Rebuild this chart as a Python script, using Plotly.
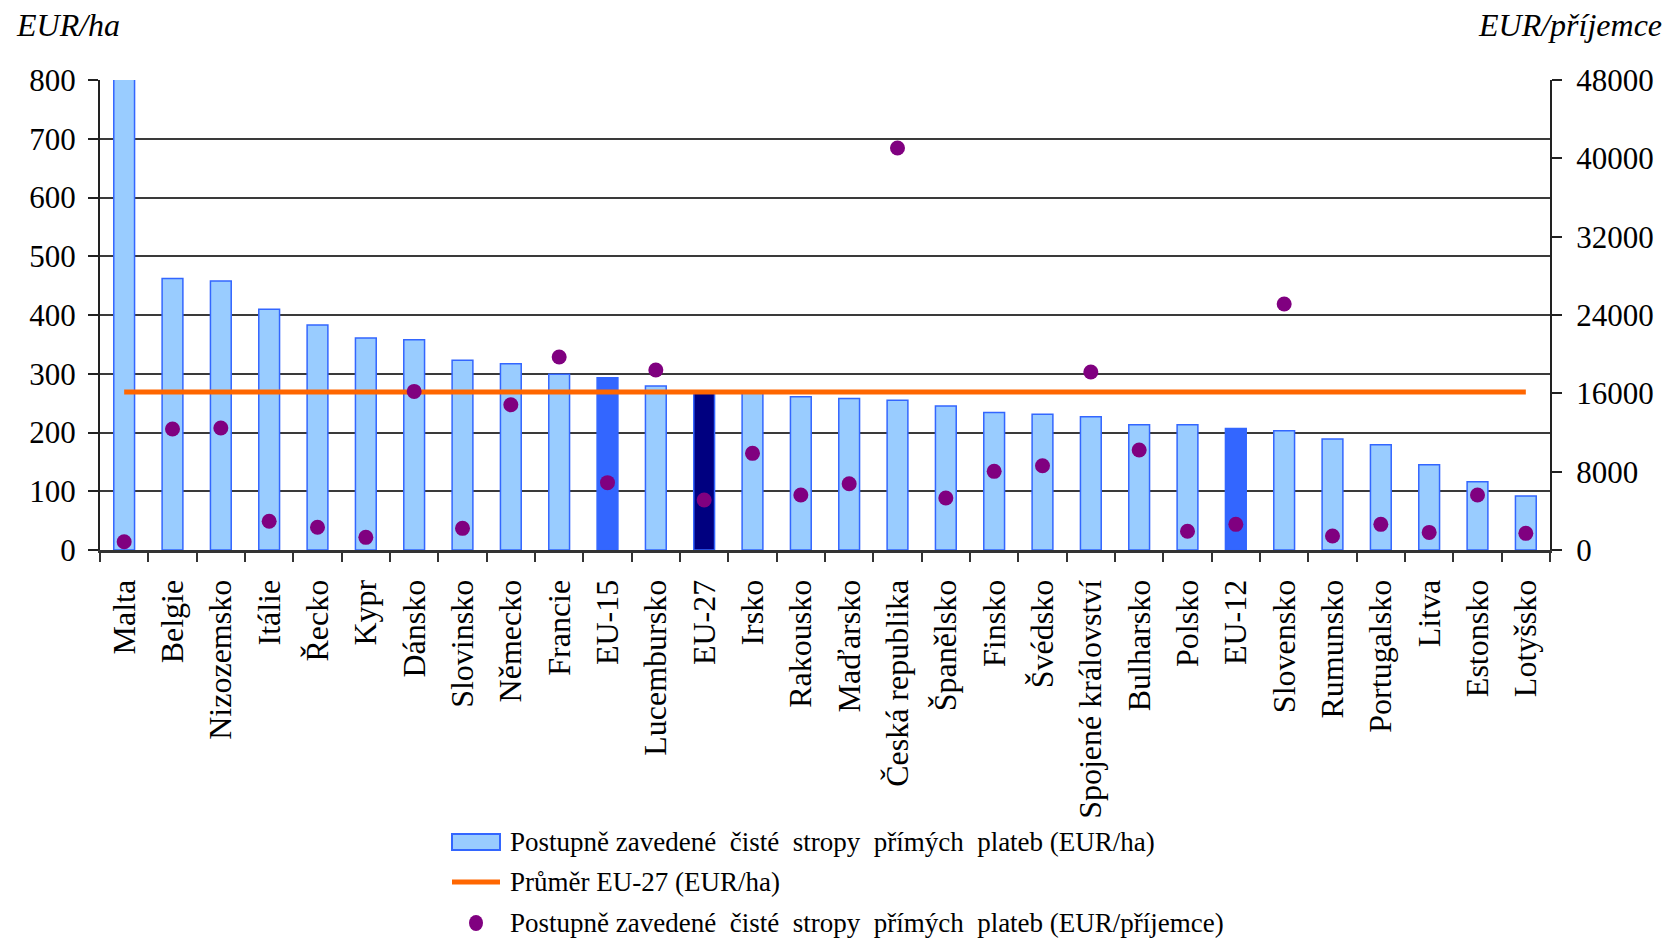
import plotly.graph_objects as go

# Country / aggregate categories, ordered by ceiling per hectare
categories = [
    "Malta", "Belgie", "Nizozemsko", "Itálie", "Řecko", "Kypr", "Dánsko",
    "Slovinsko", "Německo", "Francie", "EU-15", "Lucembursko", "EU-27",
    "Irsko", "Rakousko", "Maďarsko", "Česká republika", "Španělsko",
    "Finsko", "Švédsko", "Spojené království", "Bulharsko", "Polsko",
    "EU-12", "Slovensko", "Rumunsko", "Portugalsko", "Litva", "Estonsko",
    "Lotyšsko",
]

# Phased-in net direct payment ceilings, EUR per hectare (left axis)
eur_per_ha = [
    880, 462, 458, 410, 383, 361, 358, 323, 317, 299, 293, 279, 269,
    267, 261, 258, 255, 245, 234, 231, 227, 213, 213, 207, 203, 189,
    179, 145, 116, 92,
]

# Phased-in net direct payment ceilings, EUR per recipient (right axis)
eur_per_recipient = [
    850, 12360, 12460, 2930, 2320, 1290, 16200, 2210, 14840, 19710,
    6880, 18380, 5110, 9870, 5620, 6770, 41050, 5310, 8030, 8610,
    18180, 10210, 1910, 2620, 25120, 1430, 2620, 1800, 5620, 1700,
]

# EU-27 average, EUR per hectare
eu27_average = 269

# Axis settings
left_range = [0, 800]
left_tick_step = 100
right_range = [0, 48000]
right_tick_step = 8000

# Text
left_unit = "EUR/ha"
right_unit = "EUR/příjemce"
legend_labels = [
    "Postupně zavedené  čisté  stropy  přímých  plateb (EUR/ha)",
    "Průměr EU-27 (EUR/ha)",
    "Postupně zavedené  čisté  stropy  přímých  plateb (EUR/příjemce)",
]

LIGHT = "#99CCFF"
MID = "#3366FF"
NAVY = "#000080"
ORANGE = "#FF6600"
PURPLE = "#800080"
FONT = "Liberation Serif, Times New Roman, serif"

highlight = {"EU-15": MID, "EU-12": MID, "EU-27": NAVY}
bar_colors = [highlight.get(c, LIGHT) for c in categories]

W, H = 1667, 938
L, R, T, B = 100, 1550, 80, 550  # plot area in pixels


def px_x(x):
    return (x - L) / (R - L)


def px_y(y):
    return (B - y) / (B - T)


fig = go.Figure()

fig.add_trace(go.Bar(
    x=categories, y=eur_per_ha,
    marker=dict(color=bar_colors, line=dict(color=MID, width=1.5)),
    showlegend=False,
))

fig.add_trace(go.Scatter(
    x=categories, y=[eu27_average] * len(categories),
    mode="lines", line=dict(color=ORANGE, width=5),
    showlegend=False,
))

fig.add_trace(go.Scatter(
    x=categories, y=eur_per_recipient, yaxis="y2",
    mode="markers", marker=dict(color=PURPLE, size=15),
    showlegend=False,
))

fig.update_layout(
    width=W, height=H,
    margin=dict(l=L, r=W - R, t=T, b=H - B),
    paper_bgcolor="white", plot_bgcolor="white",
    font=dict(family=FONT, size=31, color="black"),
    bargap=0.57,
    xaxis=dict(
        type="category", range=[-0.5, len(categories) - 0.5],
        tickangle=-90,
        tickson="boundaries", ticks="outside", ticklen=9, tickwidth=1.5,
        tickcolor="#333333",
        showline=True, linecolor="#333333", linewidth=3,
        showgrid=False, ticklabelstandoff=14,
        tickfont=dict(family=FONT, size=32, color="black"),
    ),
    yaxis=dict(
        range=left_range, dtick=left_tick_step, tick0=0,
        ticks="outside", ticklen=10, tickwidth=1.5, tickcolor="#222222",
        showline=True, linecolor="#222222", linewidth=2,
        showgrid=True, gridcolor="#3a3a3a", gridwidth=1.5,
        zeroline=False, ticklabelstandoff=6,
        tickformat="d",
        tickfont=dict(family=FONT, size=31, color="black"),
    ),
    yaxis2=dict(
        range=right_range, dtick=right_tick_step, tick0=0,
        overlaying="y", side="right",
        ticks="outside", ticklen=10, tickwidth=1.5, tickcolor="#222222",
        showline=True, linecolor="#222222", linewidth=2,
        showgrid=False, zeroline=False, ticklabelstandoff=8,
        tickformat="d", separatethousands=False,
        tickfont=dict(family=FONT, size=31, color="black"),
    ),
)

# Axis unit labels
fig.add_annotation(
    x=px_x(14), y=px_y(25), xref="paper", yref="paper",
    xanchor="left", yanchor="middle", showarrow=False,
    text=f"<i>{left_unit}</i>", font=dict(family=FONT, size=32),
)
fig.add_annotation(
    x=px_x(1664), y=px_y(25), xref="paper", yref="paper",
    xanchor="right", yanchor="middle", showarrow=False,
    text=f"<i>{right_unit}</i>", font=dict(family=FONT, size=32),
)

# Legend drawn below the chart
row_y = [842, 882, 923]
sym_x0, sym_x1 = 452, 500
text_x = 508

fig.add_shape(
    type="rect", xref="paper", yref="paper",
    x0=px_x(sym_x0), x1=px_x(sym_x1),
    y0=px_y(row_y[0] + 8), y1=px_y(row_y[0] - 8),
    fillcolor=LIGHT, line=dict(color=MID, width=2),
)
fig.add_shape(
    type="line", xref="paper", yref="paper",
    x0=px_x(sym_x0), x1=px_x(sym_x1),
    y0=px_y(row_y[1]), y1=px_y(row_y[1]),
    line=dict(color=ORANGE, width=5),
)
fig.add_shape(
    type="circle", xref="paper", yref="paper",
    x0=px_x(476 - 7), x1=px_x(476 + 7),
    y0=px_y(row_y[2] + 8), y1=px_y(row_y[2] - 8),
    fillcolor=PURPLE, line=dict(width=0),
)
for label, y in zip(legend_labels, row_y):
    fig.add_annotation(
        x=px_x(text_x), y=px_y(y), xref="paper", yref="paper",
        xanchor="left", yanchor="middle", showarrow=False,
        text=label, font=dict(family=FONT, size=27),
    )

fig.write_html("out.html")
